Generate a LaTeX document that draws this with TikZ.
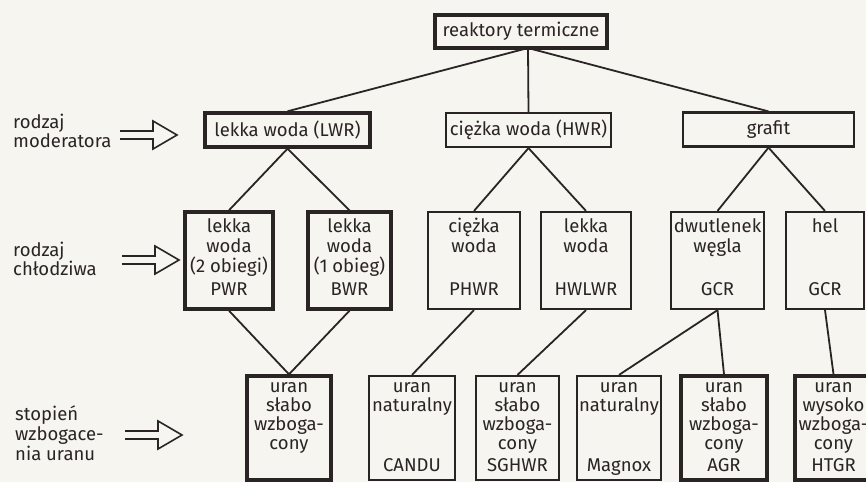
\documentclass[tikz,border=0pt]{standalone}
\usepackage{fontspec}
\setmainfont{Fira Sans}
\usetikzlibrary{calc}
\definecolor{paper}{HTML}{F7F5F0}
\definecolor{ink}{HTML}{2A2424}
\newcommand\labfont{\fontsize{18.5}{21}\selectfont}
% text line inside a box: name, line number, offset below the box top, text
\newcommand\inbox[4]{\node[txt] (#1-#2) at ($(#1.north)+(0,#3)$) {#4};}
\begin{document}
\begin{tikzpicture}[x=1pt,y=-1pt,
  box/.style={draw=ink, line width=2.2pt, fill=paper, inner sep=0pt,
    text=ink, font=\labfont},
  heavy/.style={box, line width=3.4pt},
  txt/.style={anchor=base, inner sep=0pt, text=ink, font=\labfont},
  side/.style={anchor=base west, inner sep=0pt, text=ink, font=\labfont},
  link/.style={draw=ink, line width=1.8pt},
  hollow/.pic={\draw[ink, line width=1.6pt, line join=miter]
    (0,-4) -- (33,-4) -- (33,-14) -- (57,0) -- (33,14) -- (33,4) -- (0,4);}]
\useasboundingbox[fill=paper] (0,0) rectangle (866,482);

% root
\node[heavy, minimum width=172, minimum height=33] (root) at (521,31.5) {reaktory termiczne};
\coordinate (hub) at (528,48);

% moderator
\node[heavy, minimum width=165, minimum height=34] (lwr) at (287.5,130) {lekka woda (LWR)};
\node[box, minimum width=165, minimum height=34] (hwr) at (528.5,130) {ciężka woda (HWR)};
\node[box, minimum width=171, minimum height=34] (gra) at (768.5,129.5) {grafit};

% coolant
\node[heavy, minimum width=88, minimum height=97] (pwr) at (229,260.5) {};
\node[heavy, minimum width=83, minimum height=97] (bwr) at (349.5,260.5) {};
\node[box, minimum width=92, minimum height=97] (phwr) at (474,260.5) {};
\node[box, minimum width=90, minimum height=97] (hwlwr) at (586,260.5) {};
\node[box, minimum width=93, minimum height=97] (co2) at (717.5,260.5) {};
\node[box, minimum width=78, minimum height=97] (hel) at (825,260.5) {};

% fuel enrichment
\node[heavy, minimum width=84, minimum height=104] (u1) at (289,428) {};
\node[box, minimum width=86, minimum height=104] (candu) at (412,428) {};
\node[box, minimum width=83, minimum height=104] (sghwr) at (517.5,428) {};
\node[box, minimum width=84, minimum height=104] (magnox) at (619,428) {};
\node[heavy, minimum width=86, minimum height=104] (agr) at (724,428) {};
\node[heavy, minimum width=77, minimum height=104] (htgr) at (833.5,428) {};

% tree connectors
\draw[link] (hub) -- (lwr.north);
\draw[link] (hub) -- (hwr.north);
\draw[link] (hub) -- (gra.north);
\draw[link] (lwr.south) -- (pwr.north);
\draw[link] (lwr.south) -- (bwr.north);
\draw[link] (hwr.south) -- (phwr.north);
\draw[link] (hwr.south) -- (hwlwr.north);
\draw[link] (gra.south) -- (co2.north);
\draw[link] (gra.south) -- (hel.north);
\draw[link] (pwr.south) -- (u1.north);
\draw[link] (bwr.south) -- (u1.north);
\draw[link] (phwr.south) -- (candu.north);
\draw[link] (hwlwr.south) -- (sghwr.north);
\draw[link] (co2.south) -- (magnox.north);
\draw[link] (co2.south) -- (agr.north);
\draw[link] (hel.south) -- (htgr.north);

% coolant box texts
\inbox{pwr}{1}{22}{lekka}
\inbox{pwr}{2}{42}{woda}
\inbox{pwr}{3}{62}{(2 obiegi)}
\inbox{pwr}{4}{85}{PWR}
\inbox{bwr}{1}{22}{lekka}
\inbox{bwr}{2}{42}{woda}
\inbox{bwr}{3}{62}{(1 obieg)}
\inbox{bwr}{4}{85}{BWR}
\inbox{phwr}{1}{22}{ciężka}
\inbox{phwr}{2}{42}{woda}
\inbox{phwr}{4}{85}{PHWR}
\inbox{hwlwr}{1}{22}{lekka}
\inbox{hwlwr}{2}{42}{woda}
\inbox{hwlwr}{4}{85}{HWLWR}
\inbox{co2}{1}{22}{dwutlenek}
\inbox{co2}{2}{42}{węgla}
\inbox{co2}{4}{85}{GCR}
\inbox{hel}{1}{22}{hel}
\inbox{hel}{4}{85}{GCR}

% enrichment box texts
\inbox{u1}{1}{18}{uran}
\inbox{u1}{2}{37}{słabo}
\inbox{u1}{3}{56}{wzboga-}
\inbox{u1}{4}{75}{cony}
\inbox{candu}{1}{18}{uran}
\inbox{candu}{2}{37}{naturalny}
\inbox{candu}{5}{97}{CANDU}
\inbox{sghwr}{1}{18}{uran}
\inbox{sghwr}{2}{37}{słabo}
\inbox{sghwr}{3}{56}{wzboga-}
\inbox{sghwr}{4}{75}{cony}
\inbox{sghwr}{5}{97}{SGHWR}
\inbox{magnox}{1}{18}{uran}
\inbox{magnox}{2}{37}{naturalny}
\inbox{magnox}{5}{97}{Magnox}
\inbox{agr}{1}{18}{uran}
\inbox{agr}{2}{37}{słabo}
\inbox{agr}{3}{56}{wzboga-}
\inbox{agr}{4}{75}{cony}
\inbox{agr}{5}{97}{AGR}
\inbox{htgr}{1}{18}{uran}
\inbox{htgr}{2}{37}{wysoko}
\inbox{htgr}{3}{56}{wzboga-}
\inbox{htgr}{4}{75}{cony}
\inbox{htgr}{5}{97}{HTGR}

% row captions with their arrows
\node[side] (mod-1) at (13,128) {rodzaj};
\node[side] (mod-2) at (13,147) {moderatora};
\pic at (120,135) {hollow};
\node[side] (cool-1) at (13,256) {rodzaj};
\node[side] (cool-2) at (13,275) {chłodziwa};
\pic at (122,260) {hollow};
\node[side] (enr-1) at (15,420) {stopień};
\node[side] (enr-2) at (15,440) {wzbogace-};
\node[side] (enr-3) at (15,460) {nia uranu};
\pic at (125,435) {hollow};
\end{tikzpicture}
\end{document}
